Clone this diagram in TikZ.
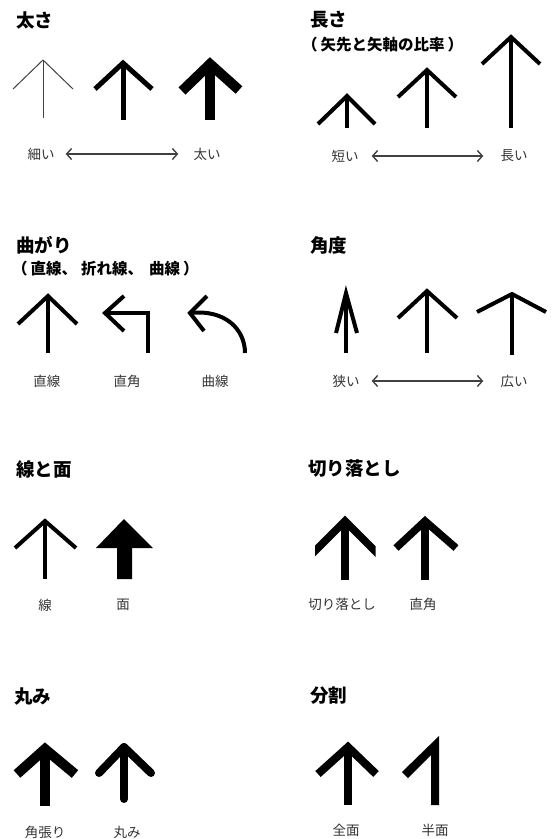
\documentclass[tikz,border=0pt]{standalone}
\usepackage{fontspec}
\setmainfont{Noto Sans CJK JP}
\usetikzlibrary{arrows.meta}
\begin{document}
\begin{tikzpicture}[x=1pt,y=-1pt,
  ttl/.style={anchor=west,inner sep=0pt,font=\fontsize{18.5}{19}\selectfont\bfseries},
  subttl/.style={anchor=west,inner sep=0pt,font=\fontsize{15.5}{16}\selectfont\bfseries},
  lab/.style={inner sep=0pt,text=black!80,font=\fontsize{13.5}{14}\selectfont},
  dbl/.style={{Straight Barb[length=5pt,width=11pt,line width=1.4pt]}-{Straight Barb[length=5pt,width=11pt,line width=1.4pt]},line width=1.1pt,black!75},
  ar/.style={line width=#1,line cap=butt,line join=miter,miter limit=10},
  ra/.style={line width=#1,line cap=round,line join=round},
]
\useasboundingbox (0,0) rectangle (552,839);

% ---------- 太さ ----------
\node[ttl] (t1) at (16,20) {太さ};
\draw[ar=1pt,black!75] (13,89) -- (43,60) -- (73,89);
\draw[ar=1pt,black!75] (43,60) -- (43,118);
\draw[ar=5pt] (95,89) -- (123,63) -- (152,89);
\draw[ar=5pt] (123,63) -- (123,120);
\draw[ar=10pt] (182,91) -- (210,64) -- (239,90);
\draw[ar=10pt] (210,64) -- (210,120);
\node[lab] (l1a) at (41,154) {細い};
\node[lab] (l1b) at (207,154) {太い};
\draw[dbl,shorten <=11pt,shorten >=15pt] (l1a) -- (l1b);

% ---------- 長さ ----------
\node[ttl] (t2) at (310,20) {長さ};
\node[subttl] (s2) at (302,45) {（\kern3pt 矢先と矢軸の比率\kern3pt ）};
\draw[ar=4pt] (318,124) -- (347,96) -- (375,124);
\draw[ar=4pt] (347,96) -- (347,128);
\draw[ar=4pt] (398,97) -- (427,70) -- (456,97);
\draw[ar=4pt] (427,70) -- (427,128);
\draw[ar=4pt] (482,64) -- (511,37) -- (540,64);
\draw[ar=4pt] (511,37) -- (511,128);
\node[lab] (l2a) at (345,156) {短い};
\node[lab] (l2b) at (514,156) {長い};
\draw[dbl,shorten <=13pt,shorten >=17pt] (l2a) -- (l2b);

% ---------- 曲がり ----------
\node[ttl] (t3) at (16,245) {曲がり};
\node[subttl] (s3) at (12,269) {（\kern3pt 直線、\kern4pt 折れ線、\kern6pt 曲線\kern3pt ）};
\draw[ar=4pt] (18,324) -- (48,296) -- (77,324);
\draw[ar=4pt] (48,296) -- (48,353);
\draw[ar=4pt] (124,296) -- (105,313) -- (124,331);
\draw[ar=4pt] (105,313) -- (148,313) -- (148,353);
\draw[ar=4pt] (207,296) -- (190,313) -- (204,331);
\draw[ar=4pt] (190,313) .. controls (226,309) and (245,330) .. (245,353);
\node[lab] (l3a) at (47,381) {直線};
\node[lab] (l3b) at (127,381) {直角};
\node[lab] (l3c) at (215,381) {曲線};

% ---------- 角度 ----------
\node[ttl] (t4) at (310,245) {角度};
\draw[ar=4pt] (336,333) -- (346,293) -- (357,333);
\draw[ar=4pt] (346,293) -- (346,353);
\draw[ar=4pt] (398,318) -- (427,291) -- (457,318);
\draw[ar=4pt] (427,291) -- (427,353);
\draw[ar=4pt] (477,312) -- (512,294) -- (546,312);
\draw[ar=4pt] (512,294) -- (512,355);
\node[lab] (l4a) at (346,381) {狭い};
\node[lab] (l4b) at (514,381) {広い};
\draw[dbl,shorten <=12pt,shorten >=17pt] (l4a) -- (l4b);

% ---------- 線と面 ----------
\node[ttl] (t5) at (16,469) {線と面};
\draw[ar=4pt] (15,548) -- (45,521) -- (76,548);
\draw[ar=4pt] (45,521) -- (45,579);
\fill (124,519) -- (96,548) -- (117,548) -- (117,579) -- (132,579) -- (132,548) -- (153,548) -- cycle;
\node[lab] (l5a) at (45,605) {線};
\node[lab] (l5b) at (123,605) {面};

% ---------- 切り落とし ----------
\node[ttl] (t6) at (308,469) {切り落とし};
\begin{scope}
  \clip (315,500) rectangle (375.5,590);
  \draw[ar=7.5pt] (305,561) -- (345,521) -- (385,561);
\end{scope}
\draw[ar=7.5pt] (345,521) -- (345,580);
\draw[ar=7.5pt] (396,548) -- (425,521) -- (456,548);
\draw[ar=7.5pt] (425,521) -- (425,580);
\node[lab] (l6a) at (342,604) {切り落とし};
\node[lab] (l6b) at (423,604) {直角};

% ---------- 丸み ----------
\node[ttl] (t7) at (14,696) {丸み};
\draw[ar=10pt] (17,774) -- (45,749) -- (75,774);
\draw[ar=10pt] (45,749) -- (45,806);
\draw[ra=8pt] (99,773) -- (124,747) -- (151,773);
\draw[ra=8pt] (124,747) -- (124,799);
\node[lab] (l7a) at (45,832) {角張り};
\node[lab] (l7b) at (127,832) {丸み};

% ---------- 分割 ----------
\node[ttl] (t8) at (310,696) {分割};
\draw[ar=8pt] (318,774) -- (348,747) -- (376,774);
\draw[ar=8pt] (348,747) -- (348,805);
\fill (439,736) -- (439,805) -- (431,805) -- (431,755) -- (408,778) -- (402,772) -- cycle;
\node[lab] (l8a) at (346,830) {全面};
\node[lab] (l8b) at (435,830) {半面};
\end{tikzpicture}
\end{document}
